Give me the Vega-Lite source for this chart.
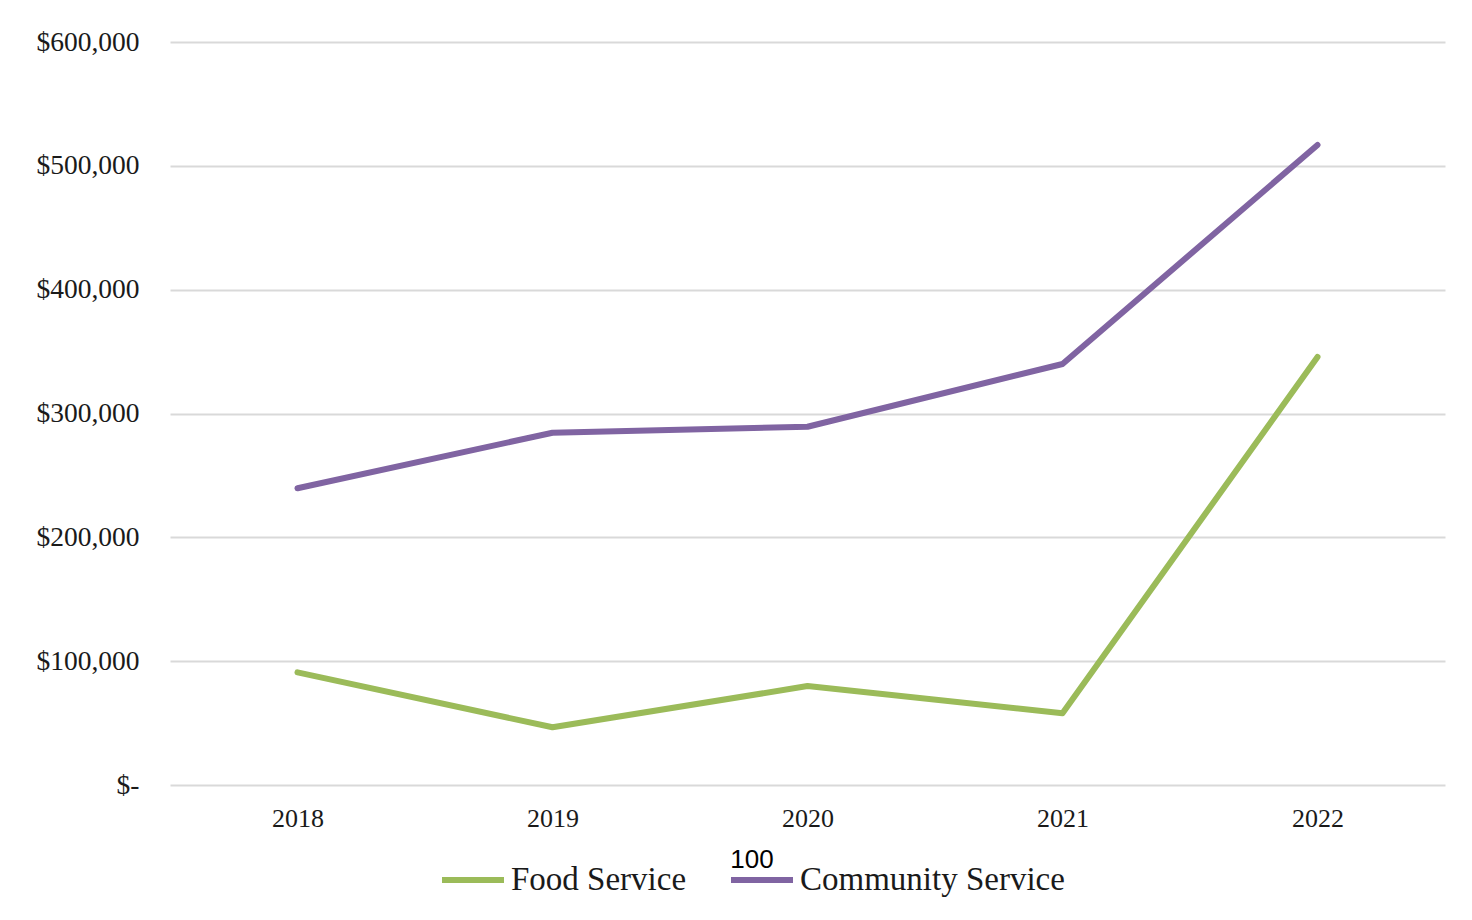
{
  "$schema": "https://vega.github.io/schema/vega-lite/v6.json",
  "width": 1275,
  "height": 743,
  "autosize": {"type": "none"},
  "padding": {"left": 170, "top": 42, "right": 27, "bottom": 135},
  "background": "white",
  "config": {
    "view": {"stroke": null},
    "font": "Liberation Serif"
  },
  "data": {
    "values": [
      {"year": "2018", "series": "Food Service", "amount": 91000},
      {"year": "2019", "series": "Food Service", "amount": 46600},
      {"year": "2020", "series": "Food Service", "amount": 79900},
      {"year": "2021", "series": "Food Service", "amount": 57900},
      {"year": "2022", "series": "Food Service", "amount": 345600},
      {"year": "2018", "series": "Community Service", "amount": 239600},
      {"year": "2019", "series": "Community Service", "amount": 284500},
      {"year": "2020", "series": "Community Service", "amount": 289300},
      {"year": "2021", "series": "Community Service", "amount": 340000},
      {"year": "2022", "series": "Community Service", "amount": 516800}
    ]
  },
  "mark": {"type": "line", "strokeWidth": 6, "strokeCap": "round", "strokeJoin": "round"},
  "encoding": {
    "x": {
      "field": "year",
      "type": "ordinal",
      "scale": {"type": "point", "padding": 0.5},
      "axis": {
        "title": null,
        "labelAngle": 0,
        "domain": false,
        "ticks": false,
        "grid": false,
        "labelFont": "Liberation Serif",
        "labelFontSize": 26,
        "labelColor": "#1a1a1a",
        "labelPadding": 20
      }
    },
    "y": {
      "field": "amount",
      "type": "quantitative",
      "scale": {"domain": [0, 600000]},
      "axis": {
        "title": null,
        "values": [0, 100000, 200000, 300000, 400000, 500000, 600000],
        "labelExpr": "datum.value == 0 ? '$-' : '$' + format(datum.value, ',')",
        "domain": false,
        "ticks": false,
        "grid": true,
        "gridColor": "#d9d9d9",
        "gridWidth": 2,
        "labelFont": "Liberation Serif",
        "labelFontSize": 27.5,
        "labelColor": "#1a1a1a",
        "labelPadding": 31
      }
    },
    "color": {
      "field": "series",
      "type": "nominal",
      "scale": {
        "domain": ["Food Service", "Community Service"],
        "range": ["#9bbb59", "#8064a2"]
      },
      "legend": {
        "orient": "none",
        "legendX": 269,
        "legendY": 805,
        "direction": "horizontal",
        "title": "100",
        "titleOrient": "top",
        "titleAnchor": "middle",
        "titleFont": "Liberation Sans",
        "titleFontSize": 26,
        "titleFontWeight": "normal",
        "titleColor": "#000000",
        "titlePadding": -27,
        "titleLimit": 0,
        "symbolType": "stroke",
        "symbolSize": 3844,
        "symbolStrokeWidth": 6,
        "labelFont": "Liberation Serif",
        "labelFontSize": 33,
        "labelLimit": 0,
        "labelColor": "#1a1a1a",
        "labelOffset": 4,
        "columnPadding": 32
      }
    }
  }
}
